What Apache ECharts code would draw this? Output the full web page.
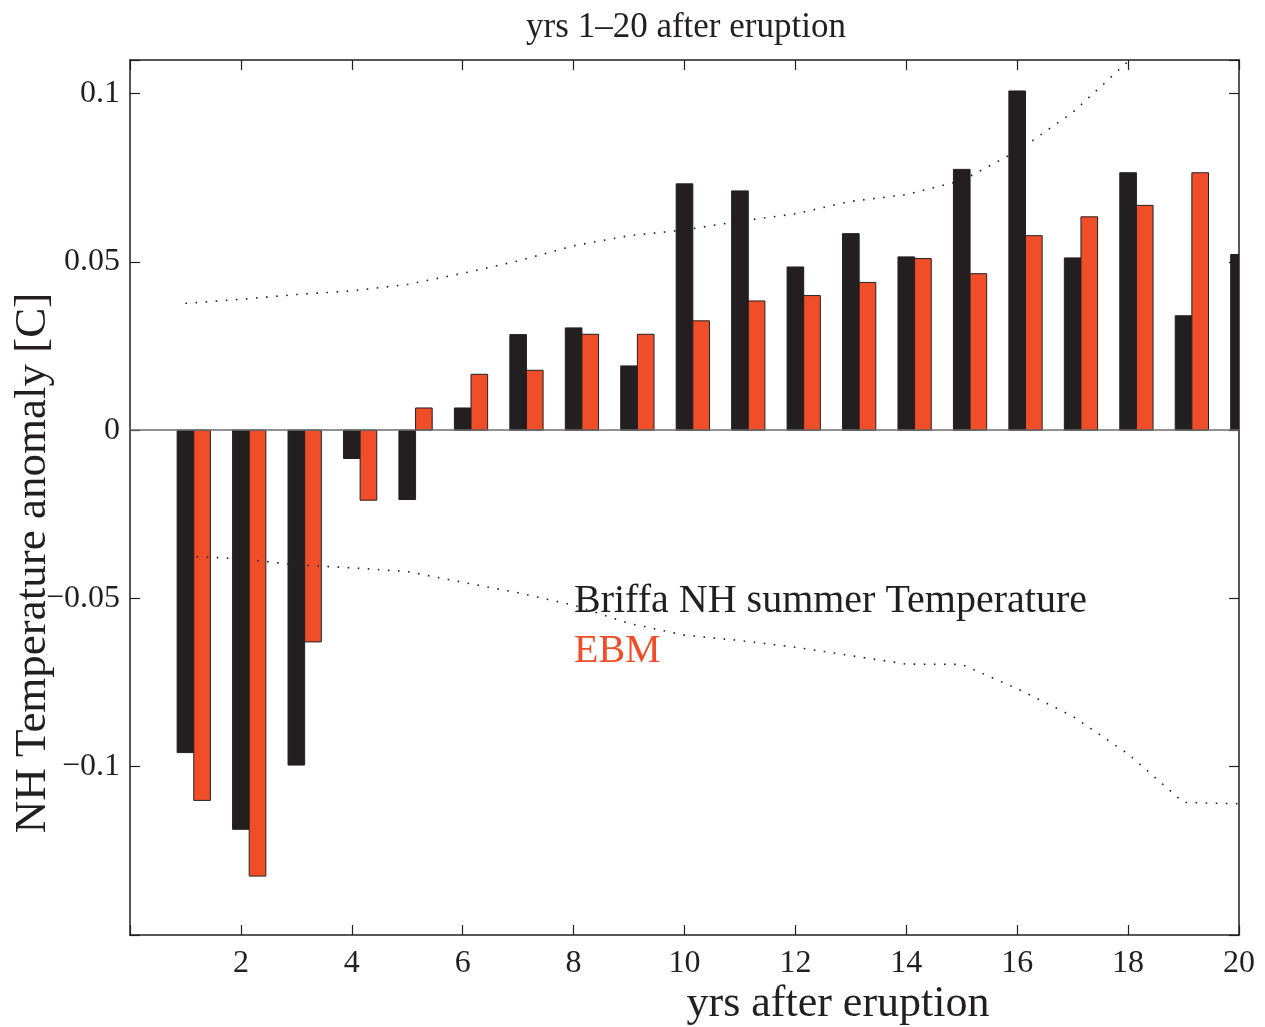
<!DOCTYPE html>
<html>
<head>
<meta charset="utf-8">
<script src="https://cdn.jsdelivr.net/npm/echarts@6/dist/echarts.min.js"></script>
<style>
  html, body { margin: 0; padding: 0; background: #fff; }
  #chart { width: 1265px; height: 1027px; }
</style>
</head>
<body>
<div id="chart"></div>
<script>
// years after eruption
const years = [1, 2, 3, 4, 5, 6, 7, 8, 9, 10, 11, 12, 13, 14, 15, 16, 17, 18, 19, 20]

// Briffa NH summer temperature anomaly (black bars)
const briffa = [-0.0958, -0.1186, -0.0995, -0.0084, -0.0206, 0.0066, 0.0284, 0.0304, 0.0191, 0.0732,
  0.0711, 0.0485, 0.0584, 0.0515, 0.0775, 0.1008, 0.0512, 0.0765, 0.0340, 0.0522]

// EBM anomaly (red bars), year 20 falls outside the axes
const ebm = [-0.1100, -0.1325, -0.0629, -0.0208, 0.0066, 0.0166, 0.0178, 0.0285, 0.0285, 0.0325,
  0.0384, 0.0400, 0.0439, 0.0510, 0.0465, 0.0578, 0.0634, 0.0668, 0.0765]

// dotted confidence bounds
const upperYears = [1, 2, 3, 4, 5, 6, 7, 8, 9, 10, 11, 12, 13, 14, 15, 16, 17, 18, 19, 20]
const upperBound = [0.0377, 0.0389, 0.0403, 0.0414, 0.0433, 0.0466, 0.0503, 0.0548, 0.0578, 0.0595,
  0.0621, 0.0643, 0.0680, 0.0700, 0.0742, 0.0829, 0.0944, 0.1096, 0.1250, 0.1250]
const lowerYears = [1.2, 2, 3, 4, 5, 6, 7, 8, 9, 10, 11, 12, 13, 14, 15, 16, 17, 18, 19, 20]
const lowerBound = [-0.0376, -0.0382, -0.0400, -0.0409, -0.0420, -0.0452, -0.0483, -0.0520, -0.0574, -0.0609,
  -0.0625, -0.0645, -0.0670, -0.0695, -0.0696, -0.0768, -0.0850, -0.0962, -0.1106, -0.1110]

const xTicks = { min: 0, max: 20, interval: 2 }
const yTicks = { min: -0.15, max: 0.11, interval: 0.05 }

const FONT = 'Liberation Serif'
const INK = '#231F20'
const RED = '#F04E28'

const barHalf = 0.15

// bar drawn from x+off-half to x+off+half, through the axis scales
const barRenderer = (offset, fill) => (params, api) => {
  const x = api.value(0)
  const v = api.value(1)
  const p0 = api.coord([x + offset - barHalf, 0])
  const p1 = api.coord([x + offset + barHalf, v])
  return {
    type: 'rect',
    shape: {
      x: p0[0],
      y: Math.min(p0[1], p1[1]),
      width: p1[0] - p0[0],
      height: Math.abs(p1[1] - p0[1])
    },
    style: { fill: fill, stroke: INK, lineWidth: 1 }
  }
}

const yLabel = (v) => {
  const r = Math.round(v * 100) / 100
  if (Math.abs(r * 20 - Math.round(r * 20)) > 1e-6) return ''
  if (r <= -0.149) return ''
  const s = String(Math.abs(r))
  return r < 0 ? '\u2212' + s : s
}

const lineStyle = { color: INK, width: 1.5 }
const tickIn = { show: true, inside: true, length: 10, lineStyle: { color: INK, width: 1.2 } }

const chart = echarts.init(document.getElementById('chart'))

chart.setOption({
  animation: false,
  backgroundColor: '#fff',
  title: {
    text: 'yrs 1\u201320 after eruption',
    left: 681,
    textAlign: 'center',
    top: 5,
    textStyle: { fontFamily: FONT, fontSize: 35, fontWeight: 'normal', color: INK }
  },
  legend: {
    orient: 'vertical',
    left: 564,
    top: 576,
    icon: 'none',
    itemWidth: 0,
    itemGap: 10,
    selectedMode: false,
    textStyle: { fontFamily: FONT, fontSize: 40 },
    data: [
      { name: 'Briffa NH summer Temperature', textStyle: { color: INK } },
      { name: 'EBM', textStyle: { color: RED } }
    ]
  },
  grid: {
    left: 130,
    right: 26,
    top: 60,
    bottom: 92,
    containLabel: false,
    outerBoundsMode: 'none'
  },
  xAxis: [
    {
      type: 'value',
      position: 'bottom',
      ...xTicks,
      axisLine: { show: true, onZero: false, lineStyle: lineStyle },
      axisTick: tickIn,
      splitLine: { show: false },
      axisLabel: {
        margin: 13,
        fontFamily: FONT,
        fontSize: 32,
        color: INK,
        formatter: (v) => (v === 0 ? '' : String(v))
      }
    },
    {
      type: 'value',
      position: 'top',
      ...xTicks,
      axisLine: { show: true, onZero: false, lineStyle: lineStyle },
      axisTick: tickIn,
      splitLine: { show: false },
      axisLabel: { show: false }
    }
  ],
  yAxis: [
    {
      type: 'value',
      position: 'left',
      ...yTicks,
      axisLine: { show: true, onZero: false, lineStyle: lineStyle },
      axisTick: tickIn,
      splitLine: { show: false },
      axisLabel: {
        margin: 10,
        fontFamily: FONT,
        fontSize: 32,
        color: INK,
        formatter: yLabel
      }
    },
    {
      type: 'value',
      position: 'right',
      ...yTicks,
      axisLine: { show: true, onZero: false, lineStyle: lineStyle },
      axisTick: tickIn,
      splitLine: { show: false },
      axisLabel: { show: false }
    }
  ],
  graphic: [
    {
      type: 'text',
      x: 33,
      y: 563,
      rotation: Math.PI / 2,
      style: {
        text: 'NH Temperature anomaly [C]',
        font: '45px "Liberation Serif"',
        fill: INK,
        align: 'center',
        verticalAlign: 'middle'
      }
    },
    {
      type: 'text',
      x: 838,
      y: 1004,
      style: {
        text: 'yrs after eruption',
        font: '44px "Liberation Serif"',
        fill: INK,
        align: 'center',
        verticalAlign: 'middle'
      }
    }
  ],
  series: [
    {
      name: 'Briffa NH summer Temperature',
      type: 'custom',
      clip: true,
      renderItem: barRenderer(0, INK),
      data: briffa.map((v, i) => [years[i], v]),
      z: 3
    },
    {
      name: 'EBM',
      type: 'custom',
      clip: true,
      renderItem: barRenderer(2 * barHalf, RED),
      data: ebm.map((v, i) => [years[i], v]),
      z: 3,
      markLine: {
        silent: true,
        symbol: 'none',
        label: { show: false },
        lineStyle: { color: '#6d6d6d', width: 1.5, type: 'solid' },
        data: [{ yAxis: 0 }]
      }
    },
    {
      name: 'upper',
      type: 'line',
      data: upperBound.map((v, i) => [upperYears[i], v]),
      showSymbol: false,
      clip: true,
      lineStyle: { color: INK, width: 1.6, type: [1.6, 8.5] },
      z: 4
    },
    {
      name: 'lower',
      type: 'line',
      data: lowerBound.map((v, i) => [lowerYears[i], v]),
      showSymbol: false,
      clip: true,
      lineStyle: { color: INK, width: 1.6, type: [1.6, 8.5] },
      z: 4
    }
  ]
})
</script>
</body>
</html>
